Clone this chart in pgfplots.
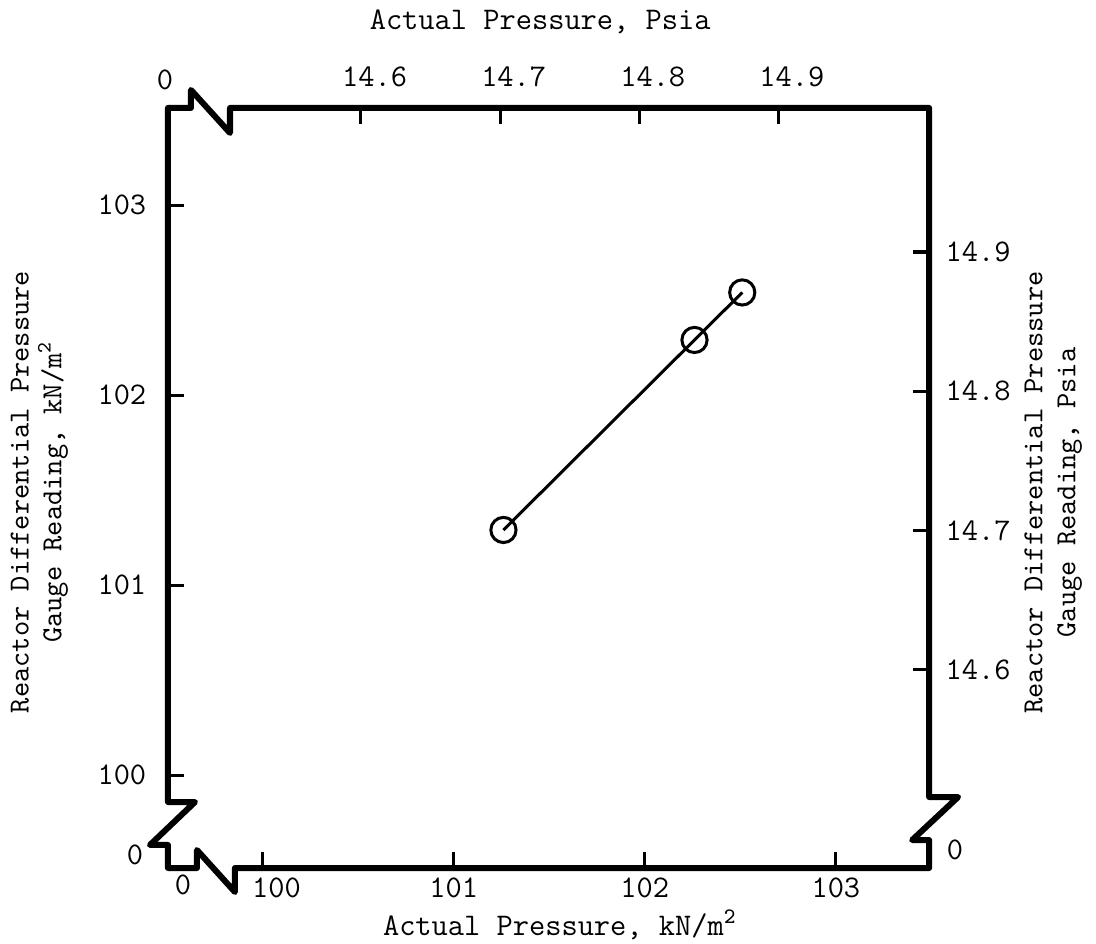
\documentclass[border=0pt]{standalone}
\usepackage{pgfplots}
\pgfplotsset{compat=1.18}
\begin{document}
\begin{tikzpicture}[font=\ttfamily\fontsize{11.5}{13}\selectfont]
\pgfplotsset{
  common/.style={
    scale only axis, width=277.8pt, height=277.4pt,
    at={(0,0)}, anchor=south west,
    axis line style={draw=none},
    tick align=inside,
    major tick length=6pt,
    every tick/.style={black, line width=1.1pt},
    /pgf/number format/assume math mode=true,
    tick label style={font=\ttfamily\fontsize{11.5}{13}\selectfont},
    clip=false,
  }
}
\begin{axis}[common,
  xmin=99.504, xmax=103.488, ymin=99.511, ymax=103.511,
  xtick pos=left, ytick pos=left,
  xticklabel pos=left, yticklabel pos=left,
  xtick={100,101,102,103}, ytick={100,101,102,103},
  xticklabels={\hspace{10pt}100,101,102,103},
  yticklabel style={xshift=-4.4pt},
]
\addplot[black, line width=1.1pt, mark=o, mark size=4.6pt,
  mark options={line width=1.1pt, fill=white, solid}]
  coordinates {(101.26,101.29) (102.26,102.29) (102.51,102.54)};
\draw[line width=2.2pt, line join=round]
  (rel axis cs:0,1) -- (rel axis cs:0.0302,1) -- (rel axis cs:0.0302,1.0237)
  -- (rel axis cs:0.0815,0.9671) -- (rel axis cs:0.0815,1) -- (rel axis cs:1,1)
  -- (rel axis cs:1,0.0934) -- (rel axis cs:1.0381,0.0934) -- (rel axis cs:0.9777,0.0368)
  -- (rel axis cs:1,0.0368) -- (rel axis cs:1,0) -- (rel axis cs:0.0880,0)
  -- (rel axis cs:0.0880,-0.0316) -- (rel axis cs:0.0381,0.0237) -- (rel axis cs:0.0381,0)
  -- (rel axis cs:0,0) -- (rel axis cs:0,0.0303) -- (rel axis cs:-0.0237,0.0303)
  -- (rel axis cs:0.0355,0.0868) -- (rel axis cs:0,0.0868) -- cycle;
\node at (rel axis cs:-0.004,1.037) {0};
\node at (rel axis cs:-0.0434,0.0171) {0};
\node at (rel axis cs:0.0197,-0.0224) {0};
\node at (rel axis cs:1.034,0.0237) {0};
\node at (rel axis cs:0.515,-0.075) {Actual Pressure, kN/m\textsuperscript{2}};
\node at (rel axis cs:0.489,1.113) {Actual Pressure, Psia};
\node[rotate=90, align=center, font=\ttfamily\fontsize{10.6}{12}\selectfont] at (rel axis cs:-0.169,0.4947)
  {Reactor Differential Pressure\\Gauge Reading, kN/m\textsuperscript{2}};
\node[rotate=90, align=center, font=\ttfamily\fontsize{10.6}{12}\selectfont] at (rel axis cs:1.163,0.494)
  {Reactor Differential Pressure\\Gauge Reading, Psia};
\end{axis}
\begin{axis}[common,
  xmin=14.4612, xmax=15.0086, ymin=14.4578, ymax=15.0034,
  xtick pos=right, ytick pos=right,
  xticklabel pos=right, yticklabel pos=right,
  xtick={14.6,14.7,14.8,14.9}, ytick={14.6,14.7,14.8,14.9},
  xticklabel style={xshift=5pt, yshift=4pt, /pgf/number format/.cd, fixed, fixed zerofill, precision=1},
  yticklabel style={xshift=2.5pt, /pgf/number format/.cd, fixed, fixed zerofill, precision=1},
]
\end{axis}
\pgfresetboundingbox
\path[use as bounding box] (-61.3pt,-27.7pt) rectangle (338.7pt,316.8pt);
\end{tikzpicture}
\end{document}
